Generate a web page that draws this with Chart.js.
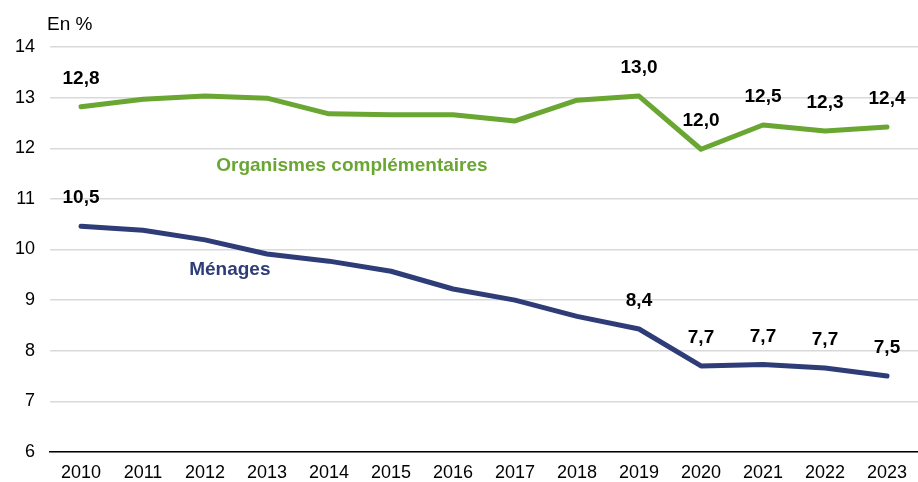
<!DOCTYPE html>
<html lang="fr">
<head>
    <meta charset="UTF-8">
    <title>Part dans la dépense</title>
    <script src="https://cdn.jsdelivr.net/npm/chart.js"></script>
    <style>
        body {
            margin: 0;
            padding: 0;
            background-color: #ffffff;
        }

        .chart-container {
            position: relative;
            width: 918px;
            height: 482px;
            overflow: hidden;
        }

        .unit {
            position: absolute;
            left: 47px;
            top: 13px;
            font-family: "Liberation Sans", Arial, sans-serif;
            font-size: 19px;
            color: #000;
        }
    </style>
</head>
<body>
    <div class="chart-container">
        <canvas id="shareChart" width="918" height="482"></canvas>
        <div class="unit">En %</div>
    </div>

    <script>
        // Années et valeurs
        const years = ['2010', '2011', '2012', '2013', '2014', '2015', '2016',
                       '2017', '2018', '2019', '2020', '2021', '2022', '2023'];
        const organismes = [12.82, 12.97, 13.03, 12.99, 12.68, 12.66, 12.66,
                            12.54, 12.95, 13.03, 11.98, 12.46, 12.34, 12.42];
        const menages = [10.46, 10.38, 10.19, 9.91, 9.77, 9.57, 9.22,
                         9.00, 8.68, 8.43, 7.70, 7.73, 7.66, 7.50];
        // Années qui portent une étiquette de valeur
        const labelledIdx = [0, 9, 10, 11, 12, 13];

        const green = '#6aa632';
        const navy = '#2e3d78';
        const fontFamily = '"Liberation Sans", Arial, sans-serif';

        // Étiquettes de valeurs et noms des séries
        const labelsPlugin = {
            id: 'labels',
            afterDatasetsDraw(chart) {
                const ctx = chart.ctx;
                ctx.save();
                ctx.textAlign = 'center';
                ctx.textBaseline = 'middle';
                ctx.font = 'bold 19px ' + fontFamily;
                ctx.fillStyle = '#000';
                chart.data.datasets.forEach((ds, d) => {
                    const meta = chart.getDatasetMeta(d);
                    labelledIdx.forEach(i => {
                        const pt = meta.data[i];
                        ctx.fillText(ds.data[i].toFixed(1).replace('.', ','), pt.x, pt.y - 28);
                    });
                });

                const x = chart.scales.x, y = chart.scales.y;
                ctx.font = 'bold 19px ' + fontFamily;
                ctx.fillStyle = green;
                ctx.fillText('Organismes complémentaires', x.getPixelForValue(4.37), y.getPixelForValue(11.65));
                ctx.fillStyle = navy;
                ctx.fillText('Ménages', x.getPixelForValue(2.4), y.getPixelForValue(9.59));
                ctx.restore();
            }
        };

        const ctx = document.getElementById('shareChart').getContext('2d');
        const shareChart = new Chart(ctx, {
            type: 'line',
            data: {
                labels: years,
                datasets: [{
                    label: 'Organismes complémentaires',
                    data: organismes,
                    borderColor: green,
                    borderWidth: 5
                }, {
                    label: 'Ménages',
                    data: menages,
                    borderColor: navy,
                    borderWidth: 5
                }]
            },
            options: {
                responsive: false,
                animation: false,
                layout: {
                    padding: { top: 47, right: -4, left: 0, bottom: 0 }
                },
                elements: {
                    point: { radius: 0 },
                    line: { tension: 0, borderCapStyle: 'round', borderJoinStyle: 'round' }
                },
                scales: {
                    x: {
                        offset: true,
                        grid: { display: false, drawTicks: false },
                        border: { display: true, color: '#000', width: 1.5 },
                        ticks: {
                            color: '#000',
                            padding: 10,
                            maxRotation: 0,
                            autoSkip: false,
                            font: { family: fontFamily, size: 18 }
                        },
                        afterFit: scale => { scale.height = 30; }
                    },
                    y: {
                        min: 6,
                        max: 14,
                        grid: { color: '#d9d9d9', lineWidth: 1.5, drawTicks: false },
                        border: { display: false },
                        ticks: {
                            stepSize: 1,
                            color: '#000',
                            padding: 15,
                            font: { family: fontFamily, size: 18 }
                        },
                        afterFit: scale => { scale.width = 50; }
                    }
                },
                plugins: {
                    legend: { display: false },
                    tooltip: { enabled: false }
                }
            },
            plugins: [labelsPlugin]
        });
    </script>
</body>
</html>
